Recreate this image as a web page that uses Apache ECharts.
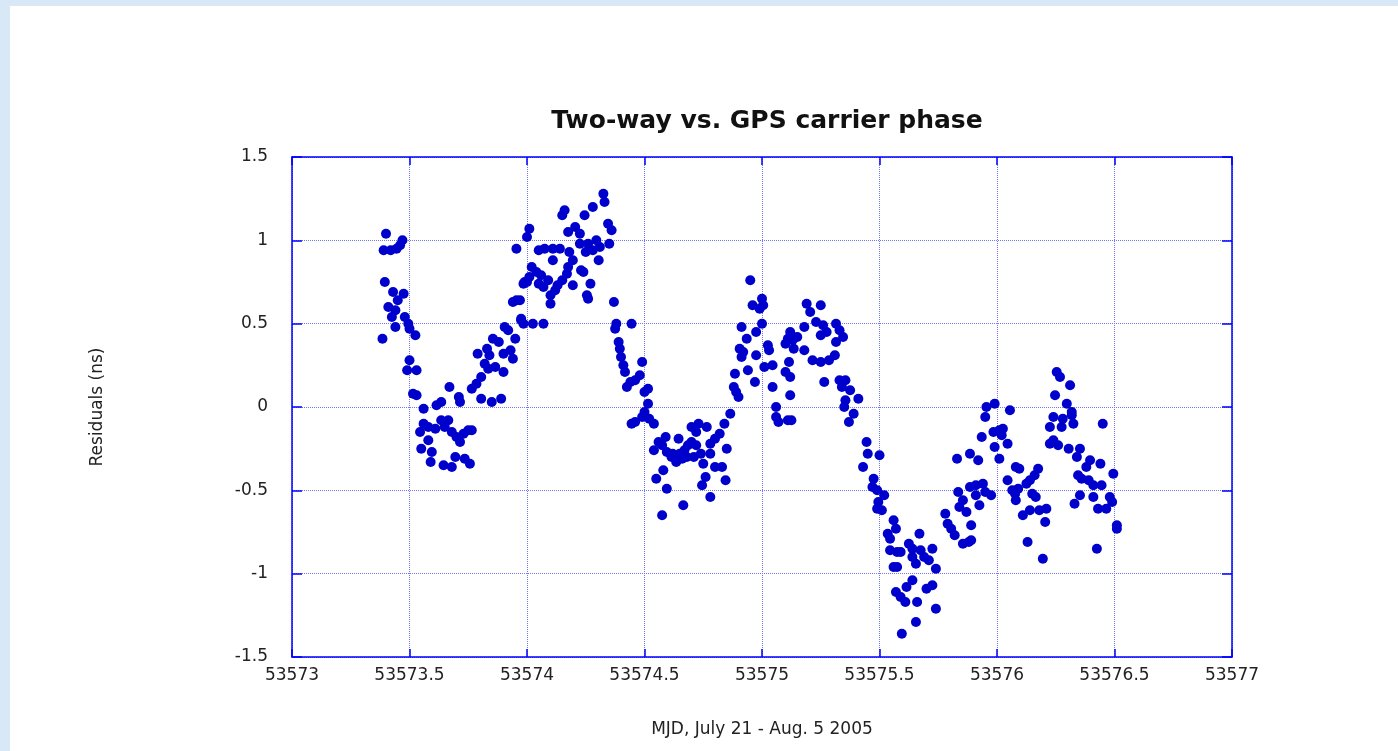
<!DOCTYPE html>
<html>
<head>
<meta charset="utf-8">
<title>Two-way vs. GPS carrier phase</title>
<script src="https://cdn.jsdelivr.net/npm/echarts@6/dist/echarts.min.js"></script>
<style>
  html, body { margin: 0; padding: 0; }
  body { width: 1398px; height: 751px; background: #d9e8f7; position: relative; overflow: hidden; }
  #panel { position: absolute; left: 10px; top: 6px; width: 1388px; height: 745px; background: #ffffff; }
  #chart { position: absolute; left: 0; top: 0; width: 1398px; height: 751px; }
</style>
</head>
<body>
<div id="panel"></div>
<div id="chart"></div>
<script>
// MJD of each two-way minus GPS carrier phase sample, and its residual (ns)
var mjd = [
	// first day, falling
	53573.40, 53573.39, 53573.42, 53573.445, 53573.46, 53573.47, 53573.395, 53573.43, 53573.475, 53573.45,
	53573.41, 53573.44, 53573.425, 53573.48, 53573.44, 53573.495, 53573.50, 53573.525, 53573.385, 53573.50,
	53573.49, 53573.53, 53573.515, 53573.53, 53573.56, 53573.615, 53573.635, 53573.67, 53573.71, 53573.715,
	53573.56, 53573.545, 53573.58, 53573.61, 53573.635, 53573.665, 53573.65, 53573.68, 53573.70, 53573.715,
	53573.73, 53573.75, 53573.765, 53573.58, 53573.55, 53573.595, 53573.59, 53573.645, 53573.68, 53573.695,
	53573.735, 53573.757,
	// rising
	53573.79, 53573.83, 53573.855, 53573.88, 53573.905, 53573.92, 53573.95, 53573.84, 53573.90, 53573.93,
	53573.94, 53573.82, 53573.835, 53573.865, 53573.90, 53573.805, 53573.785, 53573.765, 53573.805, 53573.85,
	53573.89, 53573.955, 53573.97, 53573.975, 53573.985, 53573.99, 53573.955, 53574.0,
	// top of first hump
	53574.325, 53574.33, 53574.28, 53574.245, 53574.16, 53574.15, 53574.345, 53574.36, 53574.205, 53574.175,
	53574.225, 53574.01, 53574.05, 53574.075, 53574.11, 53574.14, 53574.18, 53574.225, 53574.26, 53574.295,
	53574.31, 53574.28, 53574.25, 53574.35, 53574.305, 53574.11, 53574.195, 53574.175, 53574.23, 53574.02,
	53574.04, 53574.06, 53574.17, 53574.15, 53574.09, 53574.01, 53574.0, 53573.985, 53574.05, 53574.07,
	53574.13, 53574.12, 53574.195, 53574.27, 53574.24, 53574.10, 53574.10, 53574.255, 53574.26, 53574.37,
	53573.94, 53573.975, 53574.025, 53574.07, 53574.38, 53574.445,
	// falling
	53574.375, 53574.39, 53574.395, 53574.40, 53574.41, 53574.417, 53574.425, 53574.44, 53574.46, 53574.48,
	53574.49, 53574.515, 53574.50, 53574.515, 53574.50, 53574.49, 53574.46, 53574.445, 53574.52, 53574.54,
	// trough near 53574.7
	53574.54, 53574.56, 53574.59, 53574.575, 53574.595, 53574.615, 53574.635, 53574.65, 53574.645, 53574.67,
	53574.685, 53574.70, 53574.73, 53574.765, 53574.72, 53574.70, 53574.72, 53574.74, 53574.78, 53574.80,
	53574.82, 53574.84, 53574.865, 53574.78, 53574.85, 53574.75, 53574.80, 53574.83, 53574.76, 53574.745,
	53574.845, 53574.78, 53574.58, 53574.55, 53574.595, 53574.665, 53574.575, 53574.62, 53574.66, 53574.68,
	53574.71,
	// rising to second hump
	53574.885, 53574.88, 53574.89, 53574.90, 53574.913, 53574.935, 53574.905, 53574.92, 53574.913, 53574.94,
	53574.97, 53574.975, 53574.95, 53574.96, 53575.0, 53575.005, 53574.99, 53575.0, 53574.975, 53575.025,
	53575.03, 53575.01, 53575.045, 53575.045, 53575.06, 53575.06, 53575.07, 53575.11,
	// second hump
	53575.19, 53575.205, 53575.25, 53575.18, 53575.23, 53575.26, 53575.275, 53575.25, 53575.315, 53575.33,
	53575.345, 53575.315, 53575.11, 53575.13, 53575.15, 53575.10, 53575.135, 53575.18, 53575.215, 53575.25,
	53575.285, 53575.31, 53575.115, 53575.10, 53575.12, 53575.265, 53575.33, 53575.355, 53575.34, 53575.375,
	53575.41, 53575.355, 53575.35, 53575.39, 53575.37, 53575.12, 53575.125, 53575.12,
	// long fall
	53575.445, 53575.45, 53575.50, 53575.43, 53575.475, 53575.47, 53575.49, 53575.52, 53575.495, 53575.49,
	53575.51, 53575.56, 53575.57, 53575.535, 53575.545, 53575.545, 53575.575, 53575.59, 53575.56, 53575.575,
	53575.57, 53575.59, 53575.61, 53575.595, 53575.615, 53575.64, 53575.655, 53575.66, 53575.625, 53575.64,
	53575.67, 53575.64, 53575.655, 53575.675, 53575.69, 53575.71, 53575.725, 53575.74, 53575.70, 53575.725,
	53575.74,
	// rising again
	53575.78, 53575.79, 53575.805, 53575.82, 53575.855, 53575.89, 53575.89, 53575.83, 53575.885, 53575.92,
	53575.935, 53575.955, 53575.95, 53575.835, 53575.885, 53575.91, 53575.94, 53575.855, 53575.84, 53575.87,
	53575.925, 53575.91, 53575.95, 53575.975, 53575.88, 53575.99, 53576.055, 53575.985, 53576.01, 53576.025,
	53576.02, 53575.99, 53576.045, 53576.01,
	// small dip after 53576
	53576.045, 53576.08, 53576.095, 53576.065, 53576.077, 53576.08, 53576.09, 53576.125, 53576.14, 53576.16,
	53576.175, 53576.15, 53576.165, 53576.11, 53576.14, 53576.18, 53576.21, 53576.205, 53576.13, 53576.195,
	// last bump
	53576.254, 53576.268, 53576.311, 53576.247, 53576.297, 53576.318, 53576.24, 53576.28, 53576.318, 53576.325,
	53576.225, 53576.275, 53576.24, 53576.26, 53576.225, 53576.305, 53576.353, 53576.34, 53576.45, 53576.396,
	53576.38, 53576.44, 53576.345, 53576.36, 53576.39, 53576.41, 53576.445, 53576.495, 53576.353, 53576.33,
	53576.41, 53576.48, 53576.49, 53576.43, 53576.465, 53576.51, 53576.51, 53576.425
];

var residual = [
	1.04, 0.94, 0.94, 0.95, 0.97, 1.00, 0.75, 0.69, 0.68, 0.64,
	0.60, 0.58, 0.54, 0.54, 0.48, 0.50, 0.47, 0.43, 0.41, 0.28,
	0.22, 0.22, 0.08, 0.07, -0.01, 0.01, 0.03, 0.12, 0.06, 0.03,
	-0.10, -0.15, -0.12, -0.13, -0.08, -0.08, -0.12, -0.15, -0.18, -0.21,
	-0.16, -0.14, -0.14, -0.20, -0.25, -0.27, -0.33, -0.35, -0.36, -0.30,
	-0.31, -0.34,
	0.32, 0.35, 0.41, 0.39, 0.48, 0.46, 0.41, 0.31, 0.32, 0.34,
	0.29, 0.26, 0.23, 0.24, 0.21, 0.18, 0.14, 0.11, 0.05, 0.03,
	0.05, 0.64, 0.64, 0.52, 0.50, 0.75, 0.95, 1.02,
	1.28, 1.23, 1.20, 1.15, 1.18, 1.15, 1.10, 1.06, 1.08, 1.05,
	1.04, 1.07, 0.94, 0.95, 0.95, 0.95, 0.93, 0.98, 0.98, 1.00,
	0.96, 0.94, 0.93, 0.98, 0.88, 0.88, 0.88, 0.84, 0.82, 0.84,
	0.81, 0.79, 0.80, 0.76, 0.76, 0.78, 0.75, 0.74, 0.74, 0.72,
	0.73, 0.70, 0.73, 0.74, 0.81, 0.67, 0.62, 0.67, 0.65, 0.63,
	0.63, 0.53, 0.50, 0.50, 0.50, 0.50,
	0.47, 0.39, 0.35, 0.30, 0.25, 0.21, 0.12, 0.15, 0.16, 0.19,
	0.27, 0.11, 0.09, 0.02, -0.03, -0.06, -0.09, -0.10, -0.07, -0.10,
	-0.26, -0.21, -0.18, -0.23, -0.27, -0.30, -0.33, -0.28, -0.19, -0.26,
	-0.23, -0.12, -0.10, -0.12, -0.15, -0.21, -0.23, -0.28, -0.22, -0.19,
	-0.16, -0.10, -0.04, -0.28, -0.25, -0.34, -0.36, -0.36, -0.42, -0.47,
	-0.44, -0.54, -0.38, -0.43, -0.49, -0.59, -0.65, -0.28, -0.31, -0.30,
	-0.30,
	0.20, 0.12, 0.09, 0.06, 0.48, 0.41, 0.35, 0.33, 0.30, 0.22,
	0.15, 0.31, 0.76, 0.61, 0.65, 0.61, 0.59, 0.50, 0.45, 0.37,
	0.34, 0.24, 0.25, 0.12, 0.00, -0.06, -0.09, -0.08,
	0.62, 0.57, 0.61, 0.48, 0.51, 0.49, 0.45, 0.43, 0.50, 0.46,
	0.42, 0.39, 0.41, 0.40, 0.42, 0.38, 0.35, 0.34, 0.28, 0.27,
	0.28, 0.31, 0.27, 0.21, 0.18, 0.15, 0.16, 0.16, 0.12, 0.10,
	0.05, 0.04, 0.00, -0.04, -0.09, 0.07, -0.08, 0.45,
	-0.21, -0.28, -0.29, -0.36, -0.43, -0.48, -0.50, -0.53, -0.57, -0.61,
	-0.62, -0.68, -0.73, -0.76, -0.79, -0.86, -0.87, -0.87, -0.96, -0.96,
	-1.11, -1.14, -1.17, -1.36, -1.08, -1.04, -1.29, -1.17, -0.82, -0.85,
	-0.76, -0.90, -0.94, -0.86, -0.90, -0.92, -0.85, -0.97, -1.09, -1.07,
	-1.21,
	-0.64, -0.70, -0.73, -0.77, -0.82, -0.80, -0.71, -0.31, -0.28, -0.32,
	-0.18, 0.00, -0.06, -0.51, -0.48, -0.47, -0.46, -0.56, -0.60, -0.63,
	-0.59, -0.53, -0.51, -0.53, -0.81, 0.02, -0.02, -0.15, -0.14, -0.13,
	-0.17, -0.24, -0.22, -0.31,
	-0.44, -0.36, -0.37, -0.50, -0.52, -0.56, -0.49, -0.46, -0.44, -0.41,
	-0.37, -0.52, -0.54, -0.65, -0.62, -0.62, -0.61, -0.69, -0.81, -0.91,
	0.21, 0.18, 0.13, 0.07, 0.02, -0.03, -0.06, -0.07, -0.05, -0.10,
	-0.12, -0.12, -0.20, -0.23, -0.22, -0.25, -0.25, -0.30, -0.10, -0.32,
	-0.36, -0.34, -0.41, -0.43, -0.44, -0.47, -0.47, -0.40, -0.53, -0.58,
	-0.54, -0.54, -0.57, -0.61, -0.61, -0.71, -0.73, -0.85
];

var xTicks = [53573, 53577, 0.5];   // min, max, step
var yTicks = [-1.5, 1.5, 0.5];

var points = [];
for (var i = 0; i < mjd.length; i++) {
	points.push([mjd[i], residual[i]]);
}

var blue = '#0000ff';
var gridBlue = '#7474ff';
var labelFont = 'DejaVu Sans';

var chart = echarts.init(document.getElementById('chart'));

// mirrored ticks on the top and right frame
function frameAxis(pos, range, len) {
	return {
		type: 'value', position: pos,
		min: range[0], max: range[1], interval: range[2],
		axisLine: { onZero: false, lineStyle: { color: blue, width: 1.5 } },
		axisTick: { inside: true, length: len, lineStyle: { color: blue, width: 1.5 } },
		axisLabel: { show: false },
		splitLine: { show: false }
	};
}

var option = {
	animation: false,
	backgroundColor: 'transparent',
	title: {
		text: 'Two-way vs. GPS carrier phase',
		left: 762,
		textAlign: 'center',
		top: 104,
		textStyle: { fontFamily: labelFont, fontWeight: 'bold', fontSize: 25, color: '#111' }
	},
	grid: { left: 292, top: 157, width: 940, height: 500 },
	xAxis: [{
		type: 'value',
		min: xTicks[0], max: xTicks[1], interval: xTicks[2],
		name: 'MJD, July 21 - Aug. 5 2005',
		nameLocation: 'middle',
		nameGap: 64,
		nameTextStyle: { fontFamily: labelFont, fontSize: 17, color: '#222' },
		axisLine: { onZero: false, lineStyle: { color: blue, width: 1.5 } },
		axisTick: { inside: true, length: 8, lineStyle: { color: blue, width: 1.5 } },
		axisLabel: { margin: 10, fontFamily: labelFont, fontSize: 17, color: '#222',
			formatter: function (v) { return String(v); } },
		splitLine: { show: true, lineStyle: { color: gridBlue, width: 1, type: [1, 1] } }
	}, frameAxis('top', xTicks, 8)],
	yAxis: [{
		type: 'value',
		min: yTicks[0], max: yTicks[1], interval: yTicks[2],
		name: 'Residuals (ns)',
		nameLocation: 'middle',
		nameGap: 186,
		nameTextStyle: { fontFamily: labelFont, fontSize: 17, color: '#222' },
		axisLine: { onZero: false, lineStyle: { color: blue, width: 1.5 } },
		axisTick: { inside: true, length: 10, lineStyle: { color: blue, width: 1.5 } },
		axisLabel: { margin: 24, fontFamily: labelFont, fontSize: 17, color: '#222',
			formatter: function (v) { return String(v); } },
		splitLine: { show: true, lineStyle: { color: gridBlue, width: 1, type: [1, 1] } }
	}, frameAxis('right', yTicks, 10)],
	series: [{
		type: 'scatter',
		xAxisIndex: 0,
		yAxisIndex: 0,
		symbol: 'circle',
		symbolSize: 10,
		itemStyle: { color: '#0000cc', opacity: 1 },
		data: points
	}]
};

chart.setOption(option);
</script>
</body>
</html>
